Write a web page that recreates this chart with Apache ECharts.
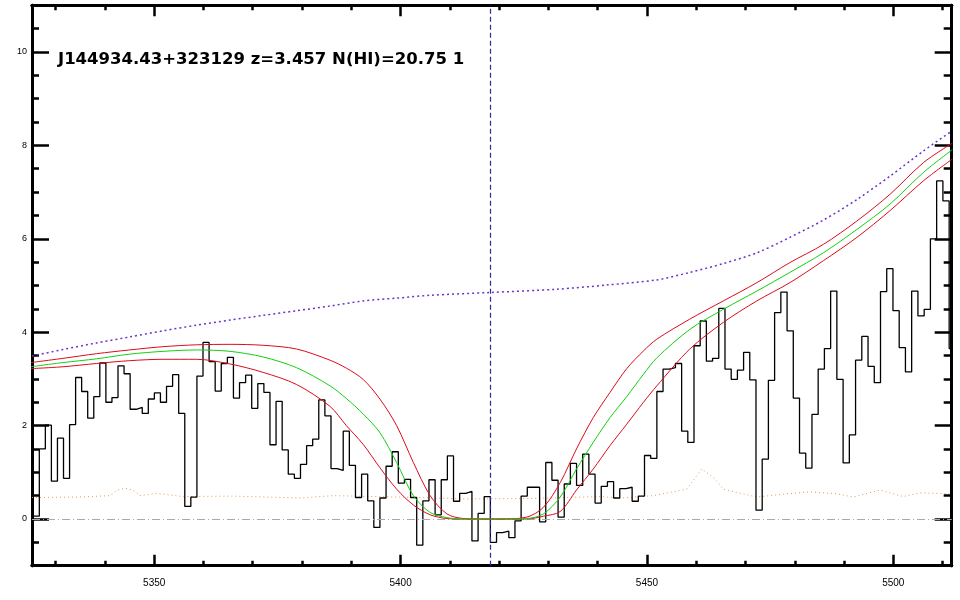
<!DOCTYPE html>
<html><head><meta charset="utf-8">
<script src="https://cdn.jsdelivr.net/npm/echarts@6/dist/echarts.min.js"></script>
<style>html,body{margin:0;padding:0;background:#fff}#c{width:960px;height:600px}</style>
</head><body><div id="c"></div>
<script>
// observed spectrum: pixel centre wavelengths (A) and flux
const wave = [
5326.07,5327.30,5328.52,5329.75,5330.98,5332.21,5333.44,5334.66,5335.89,5337.12,
5338.35,5339.58,5340.81,5342.04,5343.27,5344.50,5345.73,5346.96,5348.19,5349.42,
5350.65,5351.88,5353.12,5354.35,5355.59,5356.82,5358.05,5359.29,5360.52,5361.76,
5362.99,5364.23,5365.46,5366.70,5367.93,5369.17,5370.41,5371.64,5372.88,5374.11,
5375.35,5376.59,5377.83,5379.07,5380.31,5381.55,5382.78,5384.02,5385.26,5386.50,
5387.74,5388.98,5390.22,5391.47,5392.71,5393.95,5395.19,5396.43,5397.68,5398.92,
5400.16,5401.41,5402.65,5403.90,5405.14,5406.39,5407.63,5408.88,5410.12,5411.37,
5412.61,5413.86,5415.11,5416.35,5417.60,5418.85,5420.10,5421.35,5422.59,5423.84,
5425.09,5426.34,5427.59,5428.84,5430.09,5431.34,5432.59,5433.84,5435.09,5436.34,
5437.59,5438.84,5440.10,5441.35,5442.61,5443.86,5445.11,5446.37,5447.62,5448.88,
5450.13,5451.39,5452.64,5453.90,5455.15,5456.41,5457.67,5458.92,5460.18,5461.43,
5462.69,5463.95,5465.21,5466.47,5467.73,5468.99,5470.24,5471.50,5472.76,5474.02,
5475.28,5476.54,5477.81,5479.07,5480.33,5481.60,5482.86,5484.12,5485.38,5486.65,
5487.91,5489.18,5490.44,5491.71,5492.97,5494.24,5495.50,5496.77,5498.03,5499.30,
5500.56,5501.83,5503.09,5504.36,5505.63,5506.90,5508.16,5509.43,5510.70,5511.97];
const flux = [
0.06,1.50,2.01,0.81,1.73,0.87,2.02,3.03,2.73,2.16,
2.62,3.34,2.50,2.60,3.28,3.11,2.35,2.39,2.26,2.57,
2.70,2.50,2.84,3.09,2.26,0.27,0.47,3.06,3.78,3.37,
2.74,3.33,3.46,2.59,2.92,3.08,2.37,2.90,2.71,1.59,
2.52,1.48,0.96,0.87,1.17,1.57,1.71,2.55,2.21,1.08,
1.04,1.88,1.15,0.46,0.96,0.39,-0.18,0.45,1.13,1.44,
0.77,0.85,0.46,-0.56,0.39,0.84,0.09,0.84,1.35,0.38,
0.55,0.59,-0.47,0.12,0.48,-0.50,-0.29,-0.26,-0.40,-0.04,
0.49,0.68,0.68,-0.06,1.21,0.83,0.04,0.75,1.19,0.72,
1.39,0.96,0.34,0.70,0.80,0.45,0.65,0.68,0.38,0.49,
1.36,1.30,2.73,3.21,3.24,3.33,1.88,1.64,3.71,4.24,
3.38,3.44,4.51,3.21,2.99,3.19,3.57,2.98,0.19,1.28,
2.97,4.42,4.86,4.03,2.59,1.41,1.09,2.24,3.21,3.65,
4.88,2.99,1.20,1.80,3.40,3.91,3.27,2.92,4.87,5.36,
4.46,3.67,3.15,4.88,4.35,4.49,6.00,7.24,6.81,3.65];

// DLA model profile (best fit, green) and +/- error profiles (red)
const modelWave = [5325,5331.5,5338.3,5345,5351.8,5358.6,5365.4,5372.1,5378.9,5385.7,5389,5392.4,5395.8,5399.2,5402.6,5406,5409.4,5412.7,5416.1,5420.2,5425.6,5429,5432.4,5435.7,5439.1,5442.5,5445.9,5449.3,5452,5458.7,5465.5,5472.3,5479,5485.8,5492.6,5499.3,5506.1,5512];
const modelMid = [3.26,3.35,3.43,3.53,3.59,3.62,3.59,3.47,3.24,2.85,2.58,2.25,1.85,1.21,0.50,0.14,0.03,0,0,0,0.01,0.11,0.47,1.07,1.64,2.17,2.62,3.10,3.45,4.06,4.49,4.88,5.28,5.70,6.20,6.74,7.42,7.91];
const modelHi  = [3.35,3.44,3.54,3.62,3.69,3.73,3.74,3.72,3.64,3.40,3.23,2.99,2.57,2.00,1.21,0.50,0.11,0.01,0,0,0.04,0.25,0.78,1.50,2.17,2.71,3.22,3.60,3.85,4.28,4.67,5.06,5.49,5.88,6.38,6.95,7.63,8.05];
const modelLo  = [3.22,3.26,3.33,3.39,3.42,3.42,3.32,3.14,2.88,2.41,2.00,1.60,1.10,0.64,0.30,0.09,0.01,0,0,0,0,0.06,0.16,0.62,1.07,1.57,2.03,2.50,2.85,3.64,4.21,4.67,5.06,5.53,6.03,6.60,7.24,7.71];

// continuum (purple dotted)
const contWave = [5325.2,5331.5,5338.3,5345.1,5351.8,5358.6,5365.4,5372.1,5378.9,5385.7,5392.4,5399.2,5406.0,5418.1,5431.7,5441.8,5452.0,5458.7,5465.5,5472.3,5479.0,5485.8,5492.6,5499.3,5506.1,5511.9];
const contFlux = [3.49,3.63,3.77,3.90,4.03,4.15,4.26,4.36,4.46,4.56,4.67,4.73,4.79,4.85,4.92,5.01,5.12,5.28,5.47,5.70,6.03,6.40,6.84,7.34,7.88,8.31];

// flux error (orange dotted)
const errWave = [5325.2,5334.9,5341.0,5342.6,5344.1,5345.7,5347.1,5350.5,5355.8,5366.0,5379.6,5386.3,5399.9,5413.5,5426.9,5440.5,5444.5,5451.3,5458.1,5461.1,5463.5,5465.5,5468.2,5472.3,5478.4,5483.1,5488.5,5491.9,5497.3,5502.0,5505.4,5511.9];
const errFlux = [0.46,0.47,0.50,0.62,0.66,0.62,0.50,0.55,0.48,0.49,0.45,0.50,0.47,0.43,0.44,0.48,0.45,0.50,0.64,1.07,0.89,0.64,0.57,0.47,0.54,0.58,0.54,0.47,0.62,0.48,0.56,0.54];

const lambdaAbs = 5418.24;   // 1215.67 * (1 + 3.457)
const titleText = 'J144934.43+323129 z=3.457 N(HI)=20.75 1';

const xMajor = [5350,5400,5450,5500];
const xMinor = [5330,5340,5360,5370,5380,5390,5410,5420,5430,5440,5460,5470,5480,5490,5510];
const yMajor = [0,2,4,6,8,10];
const yMinor = [-0.5,0.5,1,1.5,2.5,3,3.5,4.5,5,5.5,6.5,7,7.5,8.5,9,9.5,10.5];

const X_MIN = 5325.2, X_MAX = 5511.85, Y_MIN = -1, Y_MAX = 11;

function zip(a, b) { return a.map((v, i) => [v, b[i]]); }
function stepData(w, f) {
  const out = [];
  for (let i = 0; i < w.length; i++) {
    const lo = i === 0 ? w[0] - (w[1] - w[0]) / 2 : (w[i - 1] + w[i]) / 2;
    const hi = i === w.length - 1 ? w[i] + (w[i] - w[i - 1]) / 2 : (w[i] + w[i + 1]) / 2;
    out.push([lo, f[i]], [hi, f[i]]);
  }
  return out;
}

const axisLineStyle = { show: true, onZero: false, lineStyle: { color: '#000', width: 3 } };
function xAx(pos, ticks, len, labels) {
  return {
    type: 'value', position: pos, min: X_MIN, max: X_MAX,
    axisLine: axisLineStyle, splitLine: { show: false },
    axisTick: { show: true, inside: true, length: len, customValues: ticks, lineStyle: { color: '#000', width: 2.5 } },
    axisLabel: labels ? { show: true, customValues: ticks, margin: 13, fontSize: 10, color: '#000',
      fontFamily: 'Liberation Sans', formatter: v => String(v) } : { show: false }
  };
}
function yAx(pos, ticks, len, labels) {
  return {
    type: 'value', position: pos, min: Y_MIN, max: Y_MAX,
    axisLine: axisLineStyle, splitLine: { show: false },
    axisTick: { show: true, inside: true, length: len, customValues: ticks, lineStyle: { color: '#000', width: 2.5 } },
    axisLabel: labels ? { show: true, customValues: ticks, margin: 5, fontSize: 9, color: '#000',
      fontFamily: 'Liberation Sans', formatter: v => String(v) } : { show: false }
  };
}

const chart = echarts.init(document.getElementById('c'), null, { renderer: 'canvas' });
chart.setOption({
  animation: false,
  backgroundColor: '#fff',
  grid: { left: 32, right: 8.3, top: 5.3, bottom: 34.3, containLabel: false },
  xAxis: [xAx('bottom', xMajor, 11, true), xAx('bottom', xMinor, 5, false), xAx('top', xMajor, 11, false), xAx('top', xMinor, 5, false)],
  yAxis: [yAx('left', yMajor, 17, true), yAx('left', yMinor, 7, false), yAx('right', yMajor, 17, false), yAx('right', yMinor, 8, false)],
  graphic: [{ type: 'text', left: 58, top: 51, z: 100,
    style: { text: titleText, font: 'bold 16.5px "DejaVu Sans", sans-serif', fill: '#000' } }],
  series: [
    { name: 'error', type: 'line', data: zip(errWave, errFlux), symbol: 'none', silent: true,
      lineStyle: { color: '#e39a55', width: 1, type: [1, 3] }, z: 2 },
    { name: 'zero', type: 'line', data: [], symbol: 'none', silent: true,
      markLine: { silent: true, symbol: 'none', label: { show: false },
        lineStyle: { color: '#aaaaaa', width: 1, type: [8, 3, 1, 3] }, data: [{ yAxis: 0 }] }, z: 1 },
    { name: 'continuum', type: 'line', data: zip(contWave, contFlux), symbol: 'none', smooth: 0.3, silent: true,
      lineStyle: { color: '#6a34c8', width: 1.5, type: [2, 3] }, z: 3 },
    { name: 'flux', type: 'line', data: stepData(wave, flux), symbol: 'none', silent: true,
      lineStyle: { color: '#000', width: 1.3 }, z: 4 },
    { name: 'model+', type: 'line', data: zip(modelWave, modelHi), symbol: 'none', smooth: 0.3, silent: true,
      lineStyle: { color: '#dd0a1e', width: 1 }, z: 5 },
    { name: 'model-', type: 'line', data: zip(modelWave, modelLo), symbol: 'none', smooth: 0.3, silent: true,
      lineStyle: { color: '#dd0a1e', width: 1 }, z: 5 },
    { name: 'model', type: 'line', data: zip(modelWave, modelMid), symbol: 'none', smooth: 0.3, silent: true,
      lineStyle: { color: '#11d011', width: 1 }, z: 6 },
    { name: 'lambda', type: 'line', data: [], symbol: 'none', silent: true,
      markLine: { silent: true, symbol: 'none', label: { show: false },
        lineStyle: { color: '#2a2aa8', width: 1.2, type: [5, 3] }, data: [{ xAxis: lambdaAbs }] }, z: 7 }
  ]
});
</script></body></html>
